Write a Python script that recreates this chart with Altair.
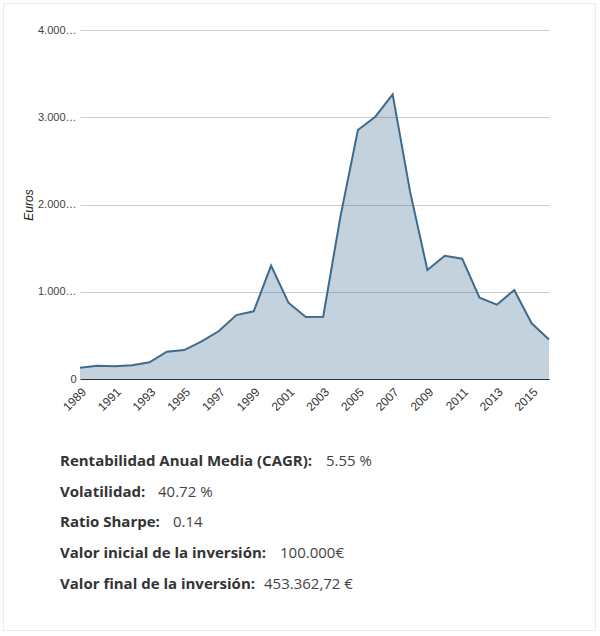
import altair as alt
import pandas as pd

# Portfolio value at the end of each year (euros)
years = list(range(1989, 2017))
values = [
    130000, 152000, 147000, 157000, 191000, 313000, 332000, 432000,
    550000, 733000, 776000, 1299000, 875000, 711000, 714000, 1870000,
    2854000, 3006000, 3263000, 2150000, 1249000, 1413000, 1379000,
    932000, 852000, 1020000, 638000, 453363,
]

# Summary statistics shown under the chart
stat_labels = [
    "Rentabilidad Anual Media (CAGR):",
    "Volatilidad:",
    "Ratio Sharpe:",
    "Valor inicial de la inversión:",
    "Valor final de la inversión:",
]
stat_values = ["5.55 %", "40.72 %", "0.14", "100.000€", "453.362,72 €"]

# Layout of the summary block, in pixels relative to the plot origin
label_x = -20
value_x = [246, 78, 93, 200, 184]
row_y = [431, 462, 492, 523, 554]

W, H = 469, 349
LINE = "#3d6b90"
AXIS_FONT = "Liberation Sans"
TEXT_FONT = "Open Sans"

series = pd.DataFrame({"year": years, "value": values})
stats = pd.DataFrame({
    "label": stat_labels,
    "value": stat_values,
    "lx": [label_x] * len(stat_labels),
    "vx": value_x,
    "ry": row_y,
})

area = alt.Chart(series).mark_area(
    color=LINE,
    fillOpacity=0.3,
    line={"color": LINE, "strokeWidth": 2},
).encode(
    x=alt.X(
        "year:Q",
        scale=alt.Scale(domain=[1989, 2016], nice=False, zero=False),
        axis=alt.Axis(
            title=None,
            values=list(range(1989, 2017, 2)),
            format="d",
            labelAngle=-45,
            labelAlign="right",
            labelBaseline="top",
            labelPadding=7,
            labelFont=AXIS_FONT,
            labelFontSize=12,
            labelColor="#333",
            ticks=False,
            grid=False,
            domainColor="#333",
            domainWidth=1,
            labelOverlap=False,
        ),
    ),
    y=alt.Y(
        "value:Q",
        scale=alt.Scale(domain=[0, 4000000], nice=False),
        axis=alt.Axis(
            title="Euros",
            values=[0, 1000000, 2000000, 3000000, 4000000],
            labelExpr="replace(format(datum.value, ','), regexp(',', 'g'), '.')",
            labelLimit=40,
            labelFont=AXIS_FONT,
            labelFontSize=11,
            labelColor="#444",
            labelPadding=4,
            ticks=False,
            domain=False,
            gridColor="#cccccc",
            gridWidth=1,
            titleFont=AXIS_FONT,
            titleFontSize=12,
            titleFontStyle="italic",
            titleFontWeight="normal",
            titleColor="#222",
            titlePadding=2,
        ),
    ),
)

frame = alt.Chart(pd.DataFrame({"k": [0]})).mark_rect(
    fillOpacity=0, stroke="#ebebeb", strokeWidth=1
).encode(
    x=alt.value(-76.5), x2=alt.value(515.5),
    y=alt.value(-26.5), y2=alt.value(600.5),
)

stat_names = alt.Chart(stats).mark_text(
    align="left", baseline="middle", font=TEXT_FONT, fontSize=15,
    fontWeight="bold", color="#333",
).encode(
    x=alt.X("lx:Q", scale=None, axis=None),
    y=alt.Y("ry:Q", scale=None, axis=None),
    text="label:N",
)

stat_nums = alt.Chart(stats).mark_text(
    align="left", baseline="middle", font=TEXT_FONT, fontSize=15,
    color="#444",
).encode(
    x=alt.X("vx:Q", scale=None, axis=None),
    y=alt.Y("ry:Q", scale=None, axis=None),
    text="value:N",
)

chart = alt.layer(frame, area, stat_names, stat_nums).resolve_scale(
    x="independent", y="independent"
).properties(
    width=W,
    height=H,
    autosize=alt.AutoSizeParams(type="none"),
    padding={"left": 80, "top": 30, "right": 51, "bottom": 257},
).configure_view(stroke=None)

chart.save("out.html", embed_options={"renderer": "svg", "actions": False})
